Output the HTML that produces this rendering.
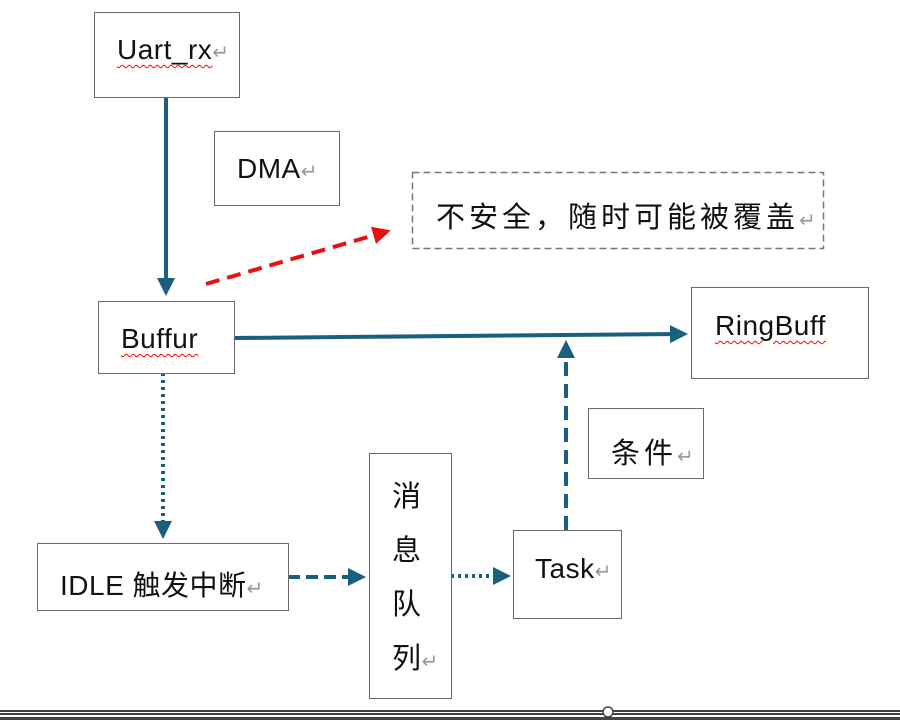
<!DOCTYPE html>
<html><head><meta charset="utf-8"><style>
body{margin:0;width:900px;height:720px;background:#fff;overflow:hidden;position:relative;font-family:"Liberation Sans","Noto Sans CJK SC",sans-serif}
.b{position:absolute;border:1.5px solid #6a6a6a;box-sizing:border-box;background:#fff}
.t{position:absolute;font-size:28px;color:#111;white-space:nowrap;letter-spacing:0.5px}
.c{font-size:29px;letter-spacing:4px}
.r{color:#999;font-size:20px;letter-spacing:0}
.w{text-decoration:underline wavy red;text-decoration-thickness:1px;text-underline-offset:5px}
</style></head><body>
<svg width="900" height="720" style="position:absolute;left:0;top:0">
<defs>
<marker id="a" markerWidth="4.5" markerHeight="4.5" refX="3" refY="2.25" orient="auto" markerUnits="strokeWidth"><path d="M0,0L4.5,2.25L0,4.5z" fill="#1a5f80"/></marker>
<marker id="ar" markerWidth="4.5" markerHeight="4.5" refX="3" refY="2.25" orient="auto" markerUnits="strokeWidth"><path d="M0,0L4.5,2.25L0,4.5z" fill="#e81010"/></marker>
</defs>
<line x1="166" y1="97" x2="166" y2="290" stroke="#1a5f80" stroke-width="4" marker-end="url(#a)"/>
<line x1="206" y1="284" x2="385" y2="232" stroke="#e81010" stroke-width="4" stroke-dasharray="14,8" marker-end="url(#ar)"/>
<line x1="234" y1="338" x2="682" y2="334" stroke="#1a5f80" stroke-width="4" marker-end="url(#a)"/>
<line x1="163" y1="373" x2="163" y2="533" stroke="#1a5f80" stroke-width="4" stroke-dasharray="3,4" marker-end="url(#a)"/>
<line x1="288" y1="577" x2="360" y2="577" stroke="#1a5f80" stroke-width="4" stroke-dasharray="12,6" marker-end="url(#a)"/>
<line x1="451" y1="576" x2="505" y2="576" stroke="#1a5f80" stroke-width="4" stroke-dasharray="3,4" marker-end="url(#a)"/>
<line x1="566" y1="530" x2="566" y2="346" stroke="#1a5f80" stroke-width="4" stroke-dasharray="14,8" marker-end="url(#a)"/>
<rect x="412.5" y="172.5" width="411" height="76" fill="none" stroke="#777" stroke-width="1.5" stroke-dasharray="7,4"/>
<line x1="0" y1="711" x2="900" y2="711" stroke="#000" stroke-width="1.5"/>
<line x1="0" y1="714" x2="900" y2="714" stroke="#000" stroke-width="1.5"/>
<rect x="0" y="717" width="900" height="3" fill="#444"/>
<circle cx="608" cy="712" r="5" fill="#fff" stroke="#444" stroke-width="1.5"/>
</svg>
<div class="b" style="left:94px;top:12px;width:146px;height:86px"></div>
<div class="t" style="left:117px;top:34px"><span class="w">Uart_rx</span><span class="r">↵</span></div>
<div class="b" style="left:214px;top:131px;width:126px;height:75px"></div>
<div class="t" style="left:237px;top:153px">DMA<span class="r">↵</span></div>
<div class="t c" style="left:436px;top:194px">不安全，随时可能被覆盖<span class="r">↵</span></div>
<div class="b" style="left:98px;top:301px;width:137px;height:73px"></div>
<div class="t" style="left:121px;top:323px"><span class="w">Buffur</span></div>
<div class="b" style="left:691px;top:287px;width:178px;height:92px"></div>
<div class="t" style="left:715px;top:310px"><span class="w">RingBuff</span></div>
<div class="b" style="left:588px;top:408px;width:116px;height:71px"></div>
<div class="t c" style="left:611px;top:430px">条件<span class="r">↵</span></div>
<div class="b" style="left:37px;top:543px;width:252px;height:68px"></div>
<div class="t" style="left:60px;top:564px">IDLE 触发中断<span class="r">↵</span></div>
<div class="b" style="left:369px;top:453px;width:83px;height:246px"></div>
<div class="t" style="left:392px;top:470px;line-height:54px;white-space:normal;width:55px;font-size:29px">消<br>息<br>队<br>列<span class="r">↵</span></div>
<div class="b" style="left:513px;top:530px;width:109px;height:89px"></div>
<div class="t" style="left:535px;top:553px">Task<span class="r">↵</span></div>
</body></html>
